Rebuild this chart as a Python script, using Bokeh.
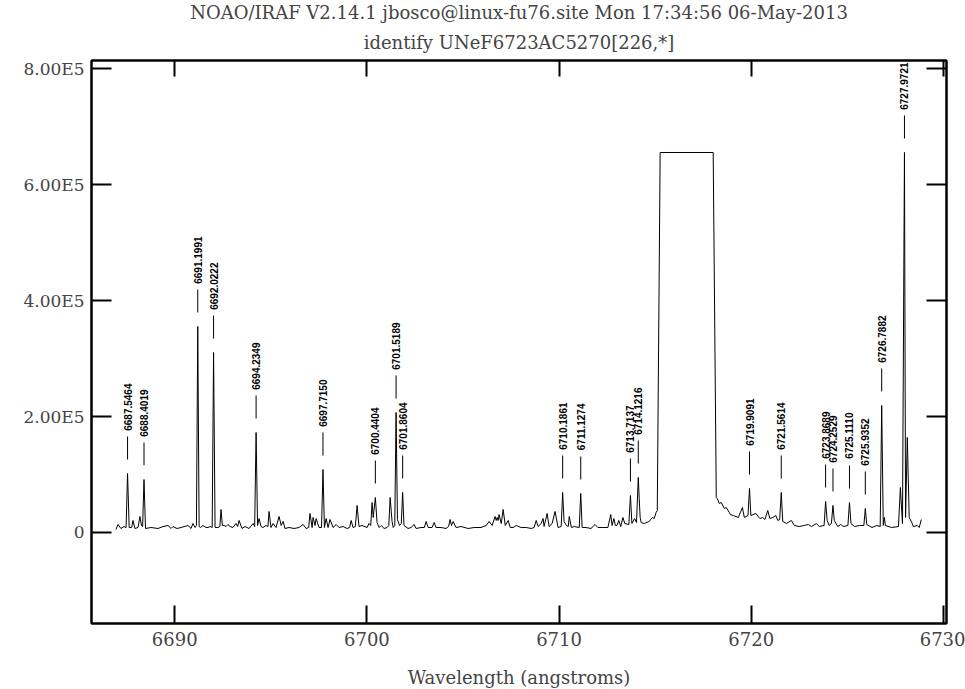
import math
from bokeh.plotting import figure
from bokeh.models import (Range1d, LinearAxis, FixedTicker, Title, ColumnDataSource,
                          CustomJSTickFormatter)
from bokeh.core.properties import value
from bokeh.embed import file_html
from bokeh.resources import INLINE

# ---------------- data ----------------
wavelength = [
    6686.94, 6687.05, 6687.20, 6687.36, 6687.47, 6687.5464, 6687.63, 6687.76, 6687.83, 6687.93,
    6688.09, 6688.19, 6688.27, 6688.33, 6688.4019, 6688.48, 6688.77, 6689.13, 6689.39, 6689.65,
    6689.81, 6689.91, 6690.12, 6690.33, 6690.69, 6690.85, 6690.95, 6691.06, 6691.13, 6691.1991,
    6691.27, 6691.35, 6691.47, 6691.63, 6691.73, 6691.84, 6691.95, 6692.0222, 6692.10, 6692.25,
    6692.35, 6692.41, 6692.48, 6692.57, 6692.67, 6692.77, 6692.88, 6693.03, 6693.19, 6693.28,
    6693.35, 6693.50, 6693.66, 6693.87, 6694.08, 6694.16, 6694.2349, 6694.31, 6694.39, 6694.49,
    6694.60, 6694.75, 6694.85, 6694.91, 6695.01, 6695.12, 6695.27, 6695.43, 6695.54, 6695.64,
    6695.74, 6695.95, 6696.21, 6696.47, 6696.68, 6696.84, 6696.97, 6697.04, 6697.15, 6697.20,
    6697.30, 6697.36, 6697.51, 6697.64, 6697.715, 6697.79, 6697.88, 6697.98, 6698.08, 6698.24,
    6698.40, 6698.55, 6698.76, 6698.97, 6699.10, 6699.18, 6699.28, 6699.40, 6699.49, 6699.59,
    6699.75, 6700.01, 6700.11, 6700.20, 6700.27, 6700.33, 6700.4404, 6700.53, 6700.64, 6700.74,
    6700.90, 6701.05, 6701.14, 6701.21, 6701.31, 6701.37, 6701.45, 6701.5189, 6701.59, 6701.70,
    6701.79, 6701.8604, 6701.93, 6702.14, 6702.30, 6702.46, 6702.56, 6702.82, 6702.99, 6703.08,
    6703.19, 6703.39, 6703.50, 6703.60, 6703.86, 6704.12, 6704.25, 6704.33, 6704.40, 6704.49,
    6704.64, 6704.90, 6705.27, 6705.58, 6705.94, 6706.21, 6706.36, 6706.52, 6706.67, 6706.73,
    6706.78, 6706.83, 6706.88, 6706.99, 6707.09, 6707.20, 6707.35, 6707.46, 6707.61, 6707.77,
    6708.03, 6708.29, 6708.55, 6708.70, 6708.81, 6708.91, 6709.07, 6709.17, 6709.22, 6709.38,
    6709.48, 6709.64, 6709.79, 6709.95, 6710.11, 6710.1861, 6710.26, 6710.38, 6710.48, 6710.53,
    6710.64, 6710.79, 6711.05, 6711.1274, 6711.20, 6711.40, 6711.66, 6711.87, 6712.02, 6712.28,
    6712.54, 6712.69, 6712.76, 6712.85, 6712.93, 6713.01, 6713.11, 6713.21, 6713.32, 6713.42,
    6713.63, 6713.7137, 6713.79, 6713.93, 6714.03, 6714.1216, 6714.17, 6714.22, 6714.27, 6714.43,
    6714.69, 6714.85, 6714.95, 6715.05, 6715.11, 6715.26, 6718.02, 6718.18, 6718.23, 6718.34,
    6718.44, 6718.60, 6718.70, 6718.86, 6718.91, 6719.07, 6719.33, 6719.54, 6719.64, 6719.83,
    6719.9091, 6719.98, 6720.24, 6720.45, 6720.60, 6720.71, 6720.86, 6720.97, 6721.12, 6721.28,
    6721.38, 6721.48, 6721.5614, 6721.64, 6721.83, 6722.09, 6722.24, 6722.50, 6722.76, 6722.97,
    6723.13, 6723.39, 6723.54, 6723.79, 6723.8689, 6723.95, 6724.05, 6724.17, 6724.2529, 6724.32,
    6724.50, 6724.65, 6724.81, 6725.03, 6725.1110, 6725.19, 6725.37, 6725.63, 6725.86, 6725.9352,
    6726.01, 6726.28, 6726.54, 6726.71, 6726.7882, 6726.87, 6726.93, 6726.98, 6727.30, 6727.66,
    6727.76, 6727.87, 6727.9721, 6728.03, 6728.12, 6728.22, 6728.38, 6728.43, 6728.64, 6728.74,
    6728.85,
]
flux_k = [
    5.2, 13.8, 6.9, 10.3, 8.6, 101.7, 8.6, 8.6, 20.7, 6.9,
    8.6, 27.6, 12.1, 10.3, 91.4, 6.9, 8.6, 6.9, 10.3, 12.1,
    6.9, 10.3, 6.9, 8.6, 12.1, 6.9, 15.5, 8.6, 12.1, 355.2,
    10.3, 8.6, 12.1, 8.6, 8.6, 10.3, 8.6, 310.3, 8.6, 8.6,
    10.3, 39.7, 12.1, 12.1, 10.3, 13.8, 10.3, 8.6, 15.5, 10.3,
    20.7, 6.9, 10.3, 6.9, 15.5, 10.3, 172.4, 12.1, 24.1, 10.3,
    8.6, 12.1, 10.3, 36.2, 8.6, 15.5, 8.6, 27.6, 12.1, 19.0,
    6.9, 8.6, 6.9, 8.6, 13.8, 6.9, 8.6, 32.8, 8.6, 25.9,
    12.1, 24.1, 8.6, 8.6, 108.6, 8.6, 24.1, 8.6, 22.4, 8.6,
    13.8, 8.6, 10.3, 6.9, 8.6, 20.7, 8.6, 10.3, 46.6, 10.3,
    12.1, 8.6, 15.5, 12.1, 51.7, 25.9, 60.3, 17.2, 8.6, 12.1,
    6.9, 8.6, 12.1, 60.3, 19.0, 8.6, 12.1, 206.9, 22.4, 12.1,
    15.5, 69.0, 12.1, 6.9, 8.6, 13.8, 6.9, 8.6, 8.6, 19.0,
    8.6, 8.6, 17.2, 8.6, 8.6, 6.9, 10.3, 22.4, 12.1, 19.0,
    8.6, 10.3, 6.9, 8.6, 8.6, 12.1, 19.0, 12.1, 27.6, 20.7,
    25.9, 20.7, 31.0, 15.5, 39.7, 12.1, 20.7, 8.6, 8.6, 12.1,
    8.6, 8.6, 6.9, 8.6, 20.7, 10.3, 15.5, 24.1, 10.3, 32.8,
    10.3, 15.5, 36.2, 8.6, 10.3, 69.0, 19.0, 12.1, 10.3, 27.6,
    8.6, 10.3, 8.6, 67.2, 8.6, 8.6, 6.9, 13.8, 8.6, 8.6,
    8.6, 31.0, 12.1, 24.1, 12.1, 12.1, 20.7, 10.3, 25.9, 15.5,
    13.8, 63.8, 15.5, 24.1, 17.2, 94.8, 58.6, 25.9, 17.2, 15.5,
    19.0, 25.9, 24.1, 34.5, 37.9, 655.2, 655.2, 60.3, 58.6, 50.0,
    51.7, 41.4, 43.1, 34.5, 31.0, 29.3, 25.9, 43.1, 25.9, 29.3,
    75.9, 29.3, 32.8, 24.1, 25.9, 22.4, 37.9, 24.1, 25.9, 29.3,
    20.7, 22.4, 69.0, 19.0, 15.5, 20.7, 12.1, 10.3, 12.1, 13.8,
    10.3, 15.5, 10.3, 12.1, 53.4, 20.7, 12.1, 15.5, 46.6, 20.7,
    10.3, 13.8, 10.3, 12.1, 51.7, 15.5, 10.3, 12.1, 12.1, 41.4,
    13.8, 8.6, 12.1, 10.3, 219.0, 12.1, 25.9, 12.1, 8.6, 10.3,
    77.6, 15.5, 655.2, 25.9, 163.8, 25.9, 15.5, 10.3, 12.1, 8.6,
    22.4,
]

line_wavelength = [6687.5464, 6688.4019, 6691.1991, 6692.0222, 6694.2349, 6697.7150, 6700.4404,
                   6701.5189, 6701.8604, 6710.1861, 6711.1274, 6713.7137, 6714.1216, 6719.9091,
                   6721.5614, 6723.8689, 6724.2529, 6725.1110, 6725.9352, 6726.7882, 6727.9721]
line_flux_k = [101.7, 91.4, 355.2, 310.3, 172.4, 108.6, 60.3,
               206.9, 69.0, 69.0, 67.2, 63.8, 94.8, 75.9,
               69.0, 53.4, 46.6, 51.7, 41.4, 219.0, 655.2]
line_labels = ["6687.5464", "6688.4019", "6691.1991", "6692.0222", "6694.2349", "6697.7150",
               "6700.4404", "6701.5189", "6701.8604", "6710.1861", "6711.1274", "6713.7137",
               "6714.1216", "6719.9091", "6721.5614", "6723.8689", "6724.2529", "6725.1110",
               "6725.9352", "6726.7882", "6727.9721"]

x_ticks = [6690, 6700, 6710, 6720, 6730]
y_ticks = [0, 200000, 400000, 600000, 800000]
y_tick_labels = ["0", "2.00E5", "4.00E5", "6.00E5", "8.00E5"]

title_line1 = "NOAO/IRAF V2.14.1 jbosco@linux-fu76.site Mon 17:34:56 06-May-2013"
title_line2 = "identify UNeF6723AC5270[226,*]"
x_label = "Wavelength (angstroms)"

# ---------------- figure ----------------
X0, X1 = 6685.67, 6730.16
Y0, Y1 = -156900, 813800
FRAME_W, FRAME_H = 855, 563
FONT = "DejaVu Serif"
LABEL_FONT = "Liberation Sans"

p = figure(frame_width=FRAME_W, frame_height=FRAME_H,
           x_range=Range1d(X0, X1), y_range=Range1d(Y0, Y1),
           output_backend="svg", toolbar_location=None, title=None,
           min_border_left=91, min_border_right=19, min_border_top=0, min_border_bottom=66)
p.grid.visible = False
p.outline_line_color = "black"
p.outline_line_width = 2
p.background_fill_color = "white"
p.border_fill_color = "white"

flux = [f * 1000 for f in flux_k]
line_flux = [f * 1000 for f in line_flux_k]

p.line(wavelength, flux, line_color="black", line_width=1)

# identification marks: short vertical ticks above each identified line
units_per_px = (Y1 - Y0) / FRAME_H
src = ColumnDataSource(dict(
    x=line_wavelength,
    y=line_flux,
    y0=[f + 14 * units_per_px for f in line_flux],
    y1=[f + 37 * units_per_px for f in line_flux],
    text=line_labels,
))
p.segment(x0="x", y0="y0", x1="x", y1="y1", source=src, line_color="black", line_width=1)
p.text(x="x", y="y", text="text", source=src, angle=math.pi / 2,
       text_align="right", text_baseline="middle", y_offset=-90,
       text_font=value(LABEL_FONT), text_font_size="10px", text_font_style="bold",
       text_color="black")

# bottom axis
xa = p.xaxis[0]
xa.ticker = FixedTicker(ticks=x_ticks)
xa.major_tick_in = 18
xa.major_tick_out = 0
xa.minor_tick_line_color = None
xa.axis_line_width = 2
xa.major_tick_line_width = 2
xa.major_label_text_font = FONT
xa.major_label_text_font_size = "18px"
xa.major_label_standoff = 8
xa.axis_label = x_label
xa.axis_label_text_font = FONT
xa.axis_label_text_font_size = "18px"
xa.axis_label_text_font_style = "normal"
xa.axis_label_standoff = 18

# left axis
ya = p.yaxis[0]
ya.ticker = FixedTicker(ticks=y_ticks)
ya.major_label_overrides = {t: lab for t, lab in zip(y_ticks, y_tick_labels)}
ya.major_tick_in = 20
ya.major_tick_out = 0
ya.minor_tick_line_color = None
ya.axis_line_width = 2
ya.major_tick_line_width = 2
ya.major_label_text_font = FONT
ya.major_label_text_font_size = "17px"
ya.major_label_standoff = 7

blank = CustomJSTickFormatter(code="return '';")
top = LinearAxis(ticker=FixedTicker(ticks=x_ticks), formatter=blank,
                 major_tick_in=16, major_tick_out=0, minor_tick_line_color=None,
                 axis_line_width=2, major_tick_line_width=2, major_label_standoff=0)
right = LinearAxis(ticker=FixedTicker(ticks=y_ticks), formatter=blank,
                   major_tick_in=20, major_tick_out=0, minor_tick_line_color=None,
                   axis_line_width=2, major_tick_line_width=2, major_label_standoff=0)
p.add_layout(right, "right")
p.add_layout(top, "above")

p.add_layout(Title(text=title_line2, align="center", text_font=FONT, text_font_size="18px",
                   text_font_style="normal", standoff=16, offset=0), "above")
p.add_layout(Title(text=title_line1, align="center", text_font=FONT, text_font_size="18px",
                   text_font_style="normal", standoff=-2, offset=0), "above")

open("out.html", "w").write(file_html(p, INLINE))
